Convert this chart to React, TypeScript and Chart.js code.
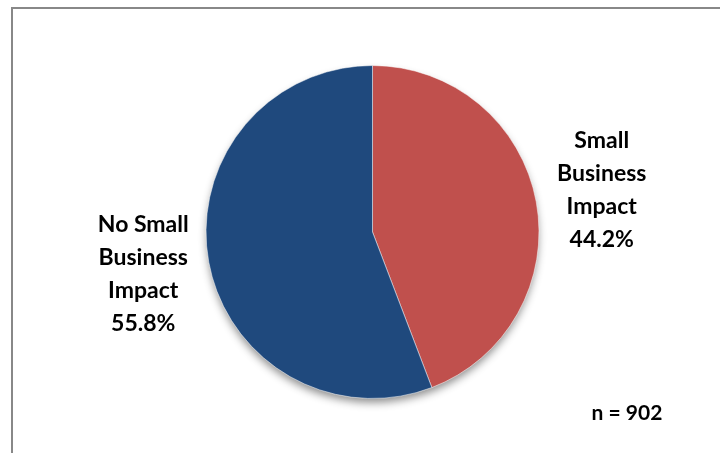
import React, { useEffect, useRef } from "react";
import { Chart, registerables } from "chart.js";

Chart.register(...registerables);

const categories = ["Small Business Impact", "No Small Business Impact"];
const labelLines = [["Small", "Business", "Impact"], ["No Small", "Business", "Impact"]];
const values = [44.2, 55.8];
const colors = ["#C0504D", "#1F497D"];
const sampleNote = "n = 902";

const FONT = "Lato, 'Open Sans', sans-serif";

export default function App() {
  const ref = useRef<HTMLCanvasElement | null>(null);

  useEffect(() => {
    document.body.style.margin = "0";
    const canvas = ref.current;
    if (!canvas) return;

    const shadowPlugin = {
      id: "pieShadow",
      beforeDatasetsDraw(chart: any) {
        const arc = chart.getDatasetMeta(0).data[0];
        if (!arc) return;
        const ctx = chart.ctx;
        ctx.save();
        ctx.shadowColor = "rgba(0,0,0,0.45)";
        ctx.shadowBlur = 9;
        ctx.shadowOffsetY = 5;
        ctx.shadowOffsetX = 0;
        ctx.beginPath();
        ctx.arc(arc.x, arc.y, arc.outerRadius - 1, 0, Math.PI * 2);
        ctx.fillStyle = "#1F497D";
        ctx.fill();
        ctx.restore();
      },
    };

    const labelPlugin = {
      id: "sliceLabels",
      afterDatasetsDraw(chart: any) {
        const ctx = chart.ctx;
        const meta = chart.getDatasetMeta(0);
        ctx.save();
        ctx.fillStyle = "#000";
        ctx.font = `bold 23px ${FONT}`;
        ctx.textAlign = "center";
        ctx.textBaseline = "middle";
        const lh = 33;
        meta.data.forEach((arc: any, i: number) => {
          const mid = (arc.startAngle + arc.endAngle) / 2;
          const r = arc.outerRadius * 1.4;
          const cx = arc.x + Math.cos(mid) * r;
          const cy = arc.y + Math.sin(mid) * r;
          const lines = [...labelLines[i], values[i].toFixed(1) + "%"];
          const startY = cy - ((lines.length - 1) * lh) / 2;
          lines.forEach((t, k) => ctx.fillText(t, cx, startY + k * lh));
        });
        ctx.font = `bold 21px ${FONT}`;
        ctx.fillText(sampleNote, chart.width - 93, 413);
        ctx.restore();
      },
    };

    const chart = new Chart(canvas, {
      type: "pie",
      data: {
        labels: categories,
        datasets: [
          {
            data: values,
            backgroundColor: colors,
            borderColor: "rgba(255,255,255,0.5)",
            borderWidth: 1,
          },
        ],
      },
      options: {
        animation: false,
        responsive: false,
        maintainAspectRatio: false,
        layout: { padding: { left: 205, right: 180, top: 65, bottom: 54 } },
        plugins: {
          legend: { display: false },
          tooltip: { enabled: false },
        },
      },
      plugins: [shadowPlugin, labelPlugin],
    });
    return () => chart.destroy();
  }, []);

  return (
    <div style={{ position: "relative", width: 720, height: 453, overflow: "hidden", background: "#fff" }}>
      <div
        style={{
          position: "absolute",
          left: 11,
          top: 7,
          width: 760,
          height: 500,
          borderLeft: "2px solid #888",
          borderTop: "2px solid #888",
        }}
      />
      <canvas ref={ref} width={720} height={453} style={{ position: "absolute", left: 0, top: 0 }} />
    </div>
  );
}
